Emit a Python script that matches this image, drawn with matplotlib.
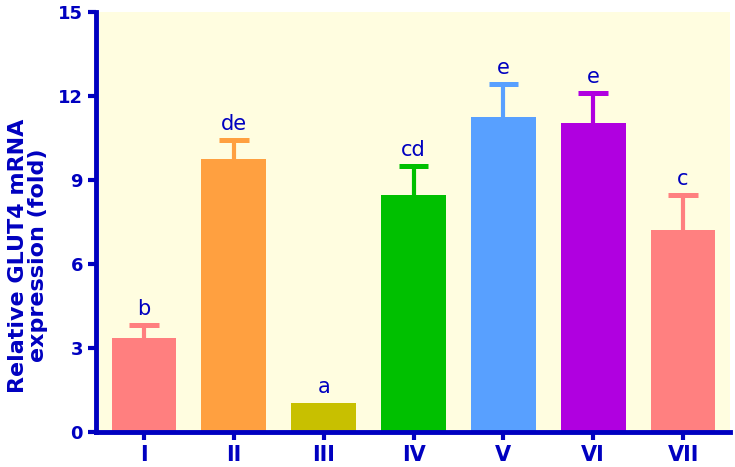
import numpy as np
import matplotlib.pyplot as plt

plt.rcParams['font.family'] = ['DejaVu Sans']

groups = ["I", "II", "III", "IV", "V", "VI", "VII"]
means = [3.37, 9.74, 1.02, 8.46, 11.26, 11.04, 7.21]
errs = [0.45, 0.70, 0.0, 1.05, 1.17, 1.06, 1.25]
letters = ["b", "de", "a", "cd", "e", "e", "c"]
colors = ["#FF7F7F", "#FFA040", "#C8C000", "#00C000", "#58A0FF", "#B000E0", "#FF8080"]

blue = "#0000C0"

fig = plt.figure(figsize=(7.35, 4.67), dpi=100)
ax = fig.add_axes([0.131, 0.075, 0.862, 0.899])
ax.set_facecolor("#FFFDE0")

x = np.arange(len(groups))
ax.bar(x, means, width=0.72, color=colors, zorder=2)
for xi, m, e, c, lab in zip(x, means, errs, colors, letters):
    if e > 0:
        # upper error bar only
        ax.vlines(xi, m, m + e, color=c, linewidth=3, zorder=1)
        ax.hlines(m + e, xi - 0.165, xi + 0.165, color=c, linewidth=3.6, zorder=1)
    ax.text(xi, m + e + 0.22, lab, ha="center", va="bottom",
            color=blue, fontsize=15)

ax.set_xlim(-0.53, 6.52)
ax.set_ylim(0, 15)
ax.set_yticks(np.arange(0, 16, 3))
ax.set_xticks(x)
ax.set_xticklabels(groups)

for side in ["top", "right"]:
    ax.spines[side].set_visible(False)
for side in ["left", "bottom"]:
    ax.spines[side].set_color(blue)
    ax.spines[side].set_linewidth(3.5)
ax.tick_params(colors=blue, width=3, length=6)
ax.tick_params(axis="y", labelsize=13)
ax.tick_params(axis="x", labelsize=15)
for t in ax.get_xticklabels() + ax.get_yticklabels():
    t.set_fontweight("bold")
ax.set_ylabel("Relative GLUT4 mRNA\nexpression (fold)", color=blue,
              fontsize=16, fontweight="bold", linespacing=1.0)
ax.yaxis.set_label_coords(-0.077, 0.42)

plt.savefig("out.png", dpi=100)
